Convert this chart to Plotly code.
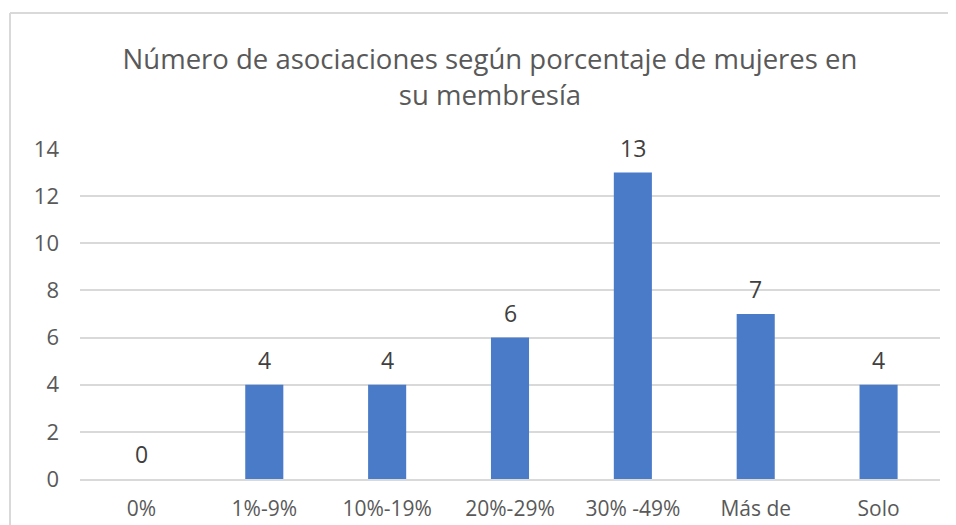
import plotly.graph_objects as go

categories = ["0%", "1%-9%", "10%-19%", "20%-29%", "30% -49%", "Más de", "Solo"]
values = [0, 4, 4, 6, 13, 7, 4]
tick_vals = [0, 2, 4, 6, 8, 10, 12, 14]
title_text = "Número de asociaciones según porcentaje de mujeres en<br>su membresía"

FONT = "Open Sans, Noto Sans, sans-serif"
GREY = "#595959"
DARK = "#404040"

# page has an 8px body margin; figure drawn at (8, 8)
W, H = 948, 517
ml, mr, mt, mb = 72, 16, 141, 46
pw = W - ml - mr
ph = H - mt - mb

def px_x(p):
    return (p - ml) / pw

def px_y(p):
    return (H - mb - p) / ph

fig = go.Figure()
fig.add_trace(go.Bar(
    x=categories, y=values,
    marker=dict(color="#4a7bc8", line=dict(width=0)),
    width=0.31,
    hoverinfo="x+y",
))

annotations = [
    dict(x=c, y=v, xref="x", yref="y", text=str(v), showarrow=False,
         yanchor="bottom", yshift=7, font=dict(size=23, color=DARK, family=FONT))
    for c, v in zip(categories, values)
]

border = dict(color="#d9d9d9", width=2)
shapes = [
    dict(type="line", xref="paper", yref="paper", x0=px_x(2), x1=px_x(2), y0=px_y(5), y1=px_y(530), line=border),
    dict(type="line", xref="paper", yref="paper", x0=px_x(2), x1=px_x(960), y0=px_y(5), y1=px_y(5), line=border),
]

fig.update_layout(
    width=W, height=H,
    margin=dict(l=ml, r=mr, t=mt, b=mb, autoexpand=False),
    paper_bgcolor="white", plot_bgcolor="white",
    font=dict(family=FONT, color=GREY, size=22),
    title=dict(text=title_text, x=482 / W, xanchor="center", y=1 - 61 / H, yanchor="middle",
               font=dict(size=27.5, color=GREY, family=FONT)),
    showlegend=False,
    shapes=shapes,
    annotations=annotations,
)
fig.update_yaxes(range=[0, 14], tickvals=tick_vals, showgrid=True, gridcolor="#d9d9d9", gridwidth=1.5,
                 zeroline=False, showline=False, ticks="", ticklabelstandoff=20, automargin=False,
                 tickfont=dict(size=22, color=GREY, family=FONT))
fig.update_xaxes(showline=True, linecolor="#d9d9d9", linewidth=1.5, ticks="", showgrid=False,
                 ticklabelstandoff=10, automargin=False,
                 tickfont=dict(size=21, color=GREY, family=FONT))

fig.write_html("out.html")
